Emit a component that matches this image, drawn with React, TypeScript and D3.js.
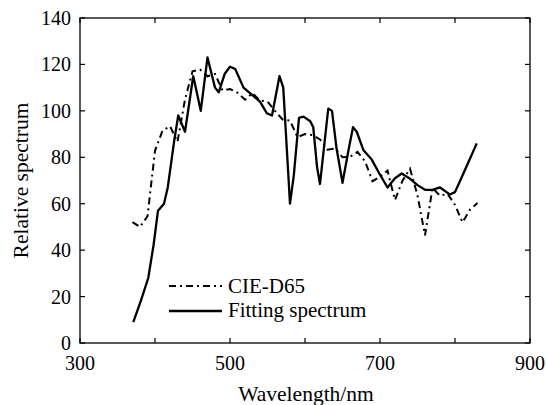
import React, { useRef, useEffect } from "react";
import * as d3 from "d3";

// CIE-D65 reference, 10 nm steps
const d65Wavelengths = [370, 380, 390, 400, 410, 420, 430, 440, 450, 460, 470, 480, 490, 500, 510, 520, 530, 540, 550, 560, 570, 580, 590, 600, 610, 620, 630, 640, 650, 660, 670, 680, 690, 700, 710, 720, 730, 740, 750, 760, 770, 780, 790, 800, 810, 820, 830];
const d65Values = [52.1, 50.0, 54.6, 82.8, 91.5, 93.4, 86.7, 104.9, 117.0, 117.8, 114.9, 115.9, 108.8, 109.4, 107.8, 104.8, 107.7, 104.4, 104.0, 100.0, 96.3, 95.8, 88.7, 90.0, 89.6, 87.7, 83.3, 83.7, 80.0, 80.2, 82.3, 78.3, 69.7, 71.6, 74.3, 61.6, 69.9, 75.1, 63.6, 46.4, 66.8, 63.4, 64.3, 59.5, 52.0, 57.4, 60.3];

// fitted spectrum
const fitWavelengths = [371, 381, 391, 398, 404, 412, 417, 426, 431, 440, 451, 461, 470, 480, 485, 493, 500, 507, 518, 529, 540, 549, 556, 566, 571, 580, 585, 592, 598, 607, 611, 616, 620, 631, 636, 642, 650, 658, 664, 669, 678, 689, 700, 710, 720, 729, 739, 750, 760, 770, 780, 793, 800, 807, 818, 829];
const fitValues = [9, 18, 28, 42, 57, 60, 67, 88, 98, 91, 115, 100, 123, 110, 108, 116, 119, 118, 110, 107, 104, 99, 98, 115, 110, 60, 72, 97, 97.5, 95.5, 93, 76, 68.5, 101, 100, 84, 69, 83, 93, 91, 83, 79, 72.5, 67, 71, 73, 71, 68, 66, 66, 67, 64, 65, 70, 78, 86];

const xTicks = [300, 400, 500, 600, 700, 800, 900];
const xLabels = [300, 500, 700, 900];
const yTicks = [0, 20, 40, 60, 80, 100, 120, 140];

const W = 546;
const H = 405;
const FONT = "'Liberation Serif', 'Times New Roman', serif";

export default function App() {
  const svgRef = useRef<SVGSVGElement | null>(null);

  useEffect(() => {
    if (!svgRef.current) return;
    const svg = d3.select(svgRef.current);
    svg.selectAll("*").remove();

    const m = { left: 80, right: 16, top: 18, bottom: 62 };
    const x = d3.scaleLinear().domain([300, 900]).range([m.left, W - m.right]);
    const y = d3.scaleLinear().domain([0, 140]).range([H - m.bottom, m.top]);
    const [x0, x1] = x.range();
    const [y0, y1] = y.range();
    const tk = 5;

    const g = svg.append("g");

    // frame
    g.append("rect").attr("x", x0).attr("y", y1).attr("width", x1 - x0).attr("height", y0 - y1)
      .attr("fill", "none").attr("stroke", "#000").attr("stroke-width", 1.3);

    // inward ticks, all four sides
    xTicks.forEach((t) => {
      g.append("line").attr("x1", x(t)).attr("x2", x(t)).attr("y1", y0).attr("y2", y0 - tk).attr("stroke", "#000").attr("stroke-width", 1.2);
      g.append("line").attr("x1", x(t)).attr("x2", x(t)).attr("y1", y1).attr("y2", y1 + tk).attr("stroke", "#000").attr("stroke-width", 1.2);
    });
    yTicks.forEach((t) => {
      g.append("line").attr("x1", x0).attr("x2", x0 + tk).attr("y1", y(t)).attr("y2", y(t)).attr("stroke", "#000").attr("stroke-width", 1.2);
      g.append("line").attr("x1", x1).attr("x2", x1 - tk).attr("y1", y(t)).attr("y2", y(t)).attr("stroke", "#000").attr("stroke-width", 1.2);
      g.append("text").attr("x", x0 - 9).attr("y", y(t)).attr("dy", "0.35em").attr("text-anchor", "end")
        .attr("font-family", FONT).attr("font-size", 20).text(t);
    });
    xLabels.forEach((t) => {
      g.append("text").attr("x", x(t)).attr("y", y0 + 26.5).attr("text-anchor", "middle")
        .attr("font-family", FONT).attr("font-size", 20).text(t);
    });

    // axis titles
    g.append("text").attr("x", (x0 + x1) / 2 + 1).attr("y", H - 4).attr("text-anchor", "middle")
      .attr("font-family", FONT).attr("font-size", 21.5).text("Wavelength/nm");
    g.append("text").attr("transform", `translate(28,${(y0 + y1) / 2}) rotate(-90)`).attr("text-anchor", "middle")
      .attr("font-family", FONT).attr("font-size", 21.5).text("Relative spectrum");

    const line = d3.line<[number, number]>().x((d) => x(d[0])).y((d) => y(d[1]));
    const d65: [number, number][] = d65Wavelengths.map((w, i) => [w, d65Values[i]]);
    const fit: [number, number][] = fitWavelengths.map((w, i) => [w, fitValues[i]]);

    const dash = "7,4,2,4";
    g.append("path").datum(d65).attr("d", line).attr("fill", "none").attr("stroke", "#000")
      .attr("stroke-width", 2).attr("stroke-dasharray", dash);
    g.append("path").datum(fit).attr("d", line).attr("fill", "none").attr("stroke", "#000")
      .attr("stroke-width", 2.3).attr("stroke-linejoin", "round");

    // legend
    const lx = 169, lw = 53;
    g.append("line").attr("x1", lx).attr("x2", lx + lw).attr("y1", 286).attr("y2", 286)
      .attr("stroke", "#000").attr("stroke-width", 2).attr("stroke-dasharray", dash);
    g.append("text").attr("x", lx + lw + 6).attr("y", 292.5)
      .attr("font-family", FONT).attr("font-size", 21).text("CIE-D65");
    g.append("line").attr("x1", lx).attr("x2", lx + lw).attr("y1", 311).attr("y2", 311)
      .attr("stroke", "#000").attr("stroke-width", 2.3);
    g.append("text").attr("x", lx + lw + 6).attr("y", 316.5)
      .attr("font-family", FONT).attr("font-size", 21).text("Fitting spectrum");
  }, []);

  return (
    <svg ref={svgRef} width={W} height={H}
      style={{ position: "absolute", left: 0, top: 0, background: "#fff" }} />
  );
}
